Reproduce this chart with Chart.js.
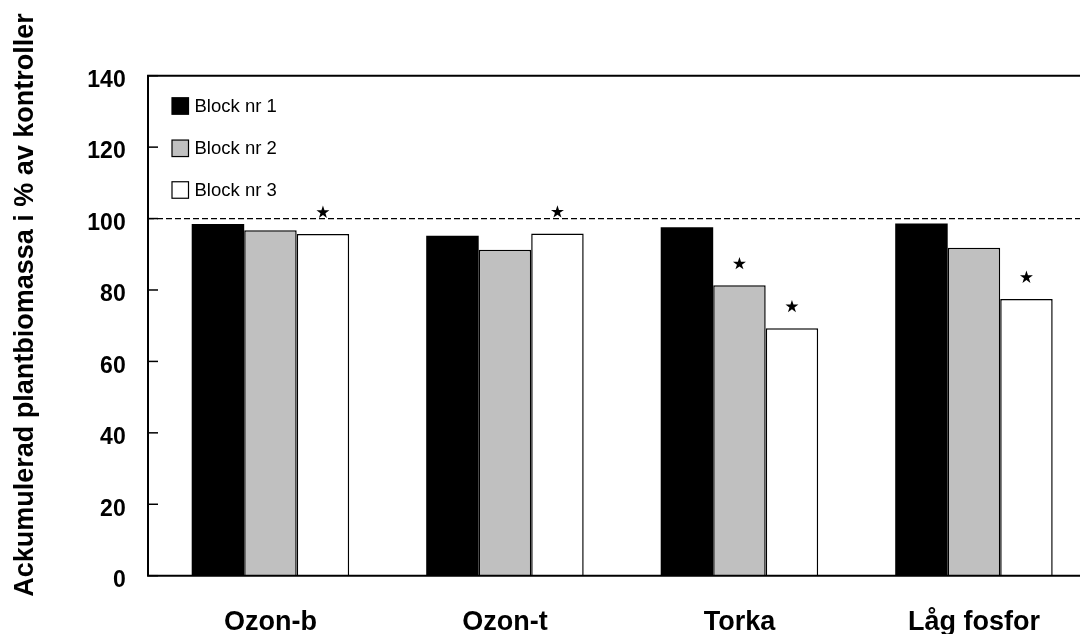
<!DOCTYPE html>
<html>
<head>
<meta charset="utf-8">
<script src="https://cdn.jsdelivr.net/npm/chart.js@4.4.1/dist/chart.umd.min.js"></script>
<style>
  html, body { margin: 0; padding: 0; background: #fff; overflow: hidden; }
  #wrap { width: 1080px; height: 634px; overflow: hidden; position: relative; }
  canvas { display: block; }
</style>
</head>
<body>
<div id="wrap"><canvas id="c" width="1100" height="634"></canvas></div>
<script>
const categories = ['Ozon-b', 'Ozon-t', 'Torka', 'Låg fosfor'];
const seriesNames = ['Block nr 1', 'Block nr 2', 'Block nr 3'];
const block1 = [98.5, 95.2, 97.6, 98.6];
const block2 = [96.7, 91.3, 81.3, 91.8];
const block3 = [95.7, 95.8, 69.3, 77.5];
const sig1 = [false, false, false, false];
const sig2 = [false, false, true, false];
const sig3 = [true, true, true, true];
const yTicks = [0, 20, 40, 60, 80, 100, 120, 140];
const controlLevel = 100;
const yTitle = 'Ackumulerad plantbiomassa i % av kontroller';

const FONT = "'Liberation Sans', Arial, Helvetica, sans-serif";
Chart.defaults.font.family = FONT;
Chart.defaults.color = '#000';

const AXIS_SHIFT = 5.2; // axis line sits slightly left of first category band

const framePlugin = {
  id: 'frame',
  afterDatasetsDraw(chart) {
    const { ctx, chartArea, scales } = chart;
    const y = scales.y;
    const x0 = chartArea.left - AXIS_SHIFT;
    ctx.save();
    ctx.strokeStyle = '#000';
    ctx.lineWidth = 1.3;
    ctx.setLineDash([6, 3]);
    const yc = y.getPixelForValue(controlLevel);
    ctx.beginPath();
    ctx.moveTo(x0, yc);
    ctx.lineTo(chart.width, yc);
    ctx.stroke();
    ctx.setLineDash([]);
    ctx.lineWidth = 2;
    ctx.beginPath();
    ctx.moveTo(chart.width, chartArea.top);
    ctx.lineTo(x0, chartArea.top);
    ctx.lineTo(x0, chartArea.bottom);
    ctx.lineTo(chart.width, chartArea.bottom);
    ctx.stroke();
    ctx.lineWidth = 1.5;
    yTicks.forEach(v => {
      const py = y.getPixelForValue(v);
      ctx.beginPath();
      ctx.moveTo(x0, py);
      ctx.lineTo(x0 + 10, py);
      ctx.stroke();
    });
    // rotated axis title
    ctx.save();
    ctx.translate(33, 305);
    ctx.rotate(-Math.PI / 2);
    ctx.font = 'bold 27px ' + FONT;
    ctx.textAlign = 'center';
    ctx.textBaseline = 'alphabetic';
    ctx.fillStyle = '#000';
    ctx.fillText(yTitle, 0, 0);
    ctx.restore();
    ctx.restore();
  }
};

function drawStar(ctx, cx, cy, R) {
  const r = R * 0.382;
  ctx.beginPath();
  for (let i = 0; i < 10; i++) {
    const rad = i % 2 === 0 ? R : r;
    const a = -Math.PI / 2 + i * Math.PI / 5;
    const px = cx + rad * Math.cos(a);
    const py = cy + rad * Math.sin(a);
    if (i === 0) ctx.moveTo(px, py); else ctx.lineTo(px, py);
  }
  ctx.closePath();
  ctx.fill();
}

const starPlugin = {
  id: 'stars',
  afterDatasetsDraw(chart) {
    const { ctx } = chart;
    const flags = [sig1, sig2, sig3];
    ctx.save();
    ctx.fillStyle = '#000';
    chart.data.datasets.forEach((ds, di) => {
      const meta = chart.getDatasetMeta(di);
      meta.data.forEach((el, i) => {
        if (flags[di][i]) drawStar(ctx, el.x, el.y - 21.5, 6.8);
      });
    });
    ctx.restore();
  }
};

const legendPlugin = {
  id: 'blockLegend',
  afterDatasetsDraw(chart) {
    const { ctx, chartArea } = chart;
    const x0 = chartArea.left - AXIS_SHIFT;
    const rows = [106, 148.3, 190];
    ctx.save();
    ctx.font = '18.5px ' + FONT;
    ctx.textBaseline = 'middle';
    ctx.textAlign = 'left';
    chart.data.datasets.forEach((ds, i) => {
      const cy = rows[i];
      const sx = x0 + 24;
      const size = 16.5;
      ctx.fillStyle = ds.backgroundColor;
      ctx.fillRect(sx, cy - size / 2, size, size);
      ctx.strokeStyle = '#000';
      ctx.lineWidth = 1.2;
      ctx.strokeRect(sx, cy - size / 2, size, size);
      ctx.fillStyle = '#000';
      ctx.fillText(ds.label, sx + 22.5, cy + 1);
    });
    ctx.restore();
  }
};

new Chart(document.getElementById('c'), {
  type: 'bar',
  data: {
    labels: categories,
    datasets: [
      { label: seriesNames[0], data: block1, backgroundColor: '#000000', borderColor: '#000', borderWidth: 0 },
      { label: seriesNames[1], data: block2, backgroundColor: '#c0c0c0', borderColor: '#000', borderWidth: 1.5 },
      { label: seriesNames[2], data: block3, backgroundColor: '#ffffff', borderColor: '#000', borderWidth: 1.5 }
    ]
  },
  options: {
    responsive: false,
    animation: false,
    devicePixelRatio: 1,
    layout: { padding: { top: 75.7, right: 8.8, left: 0, bottom: 0 } },
    datasets: { bar: { categoryPercentage: 0.6716, barPercentage: 1.0 } },
    plugins: { legend: { display: false }, tooltip: { enabled: false }, title: { display: false } },
    scales: {
      x: {
        grid: { display: false, drawTicks: false },
        border: { display: false },
        ticks: { font: { size: 27, weight: 'bold' }, padding: 31, color: '#000', maxRotation: 0 },
        afterFit(scale) { scale.height = 58.3; }
      },
      y: {
        min: 0, max: 140,
        afterBuildTicks(scale) { scale.ticks = yTicks.map(v => ({ value: v })); },
        grid: { display: false, drawTicks: false },
        border: { display: false },
        ticks: { font: { size: 23, weight: 'bold' }, padding: 27.5, labelOffset: 5, color: '#000' },
        title: { display: false },
        afterFit(scale) { scale.width = 153.2; }
      }
    }
  },
  plugins: [framePlugin, starPlugin, legendPlugin]
});
</script>
</body>
</html>
